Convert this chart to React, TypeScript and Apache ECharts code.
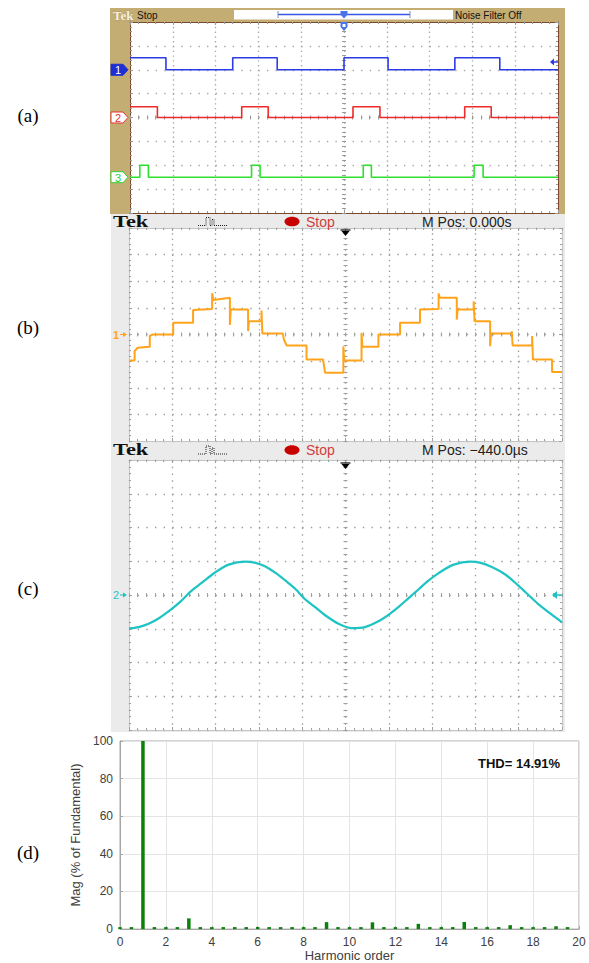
import React, { useEffect, useRef } from "react";
import * as echarts from "echarts";

// ---------- (a) gate signals: edge times (divisions) and levels (divisions from centre)
const gate1Time = [0, 0.84, 2.4, 3.44, 5.0, 6.03, 7.59, 8.64, 10];
const gate1Level = [2.5, 2.0, 2.5, 2.0, 2.5, 2.0, 2.5, 2.0, 2.0];
const gate2Time = [0, 0.64, 2.61, 3.23, 5.21, 5.84, 7.82, 8.44, 10];
const gate2Level = [0.45, 0, 0.45, 0, 0.45, 0, 0.45, 0, 0];
const gate3Time = [0, 0.23, 0.43, 2.84, 3.04, 5.45, 5.64, 8.04, 8.25, 10];
const gate3Level = [-2.5, -2.0, -2.5, -2.0, -2.5, -2.0, -2.5, -2.0, -2.5, -2.5];

// ---------- (b) multilevel output voltage (time div, level div)
const stairTime = [0, 0.13, 0.13, 0.2, 0.48, 0.48, 0.55, 1.02, 1.02, 1.48, 1.48, 1.92, 1.92, 1.95, 2.33, 2.33, 2.35, 2.75, 2.75, 2.77, 3.06, 3.06, 3.08, 3.55, 3.58, 3.64, 4.1, 4.1, 4.48, 4.53, 4.95, 4.95, 4.97, 5.37, 5.37, 5.39, 5.76, 5.76, 6.26, 6.26, 6.72, 6.72, 7.15, 7.15, 7.18, 7.57, 7.57, 7.59, 7.96, 7.96, 7.98, 8.34, 8.34, 8.36, 8.84, 8.84, 8.86, 9.31, 9.31, 9.33, 9.77, 9.77, 10];
const stairLevel = [-0.98, -0.98, -0.62, -0.5, -0.46, -0.05, 0, 0, 0.44, 0.44, 0.92, 0.96, 1.55, 1.3, 1.38, 0.36, 0.94, 0.94, 0.13, 0.5, 0.5, 0.9, 0.04, 0.04, -0.2, -0.41, -0.41, -0.94, -0.94, -1.44, -1.44, -0.45, -0.98, -0.98, 0.06, -0.46, -0.46, 0, 0, 0.44, 0.44, 0.94, 0.96, 1.54, 1.38, 1.38, 0.56, 0.94, 0.94, 1.25, 0.5, 0.5, -0.44, 0.04, 0.04, 0.12, -0.41, -0.41, -0.06, -0.94, -0.94, -1.41, -1.41];

// ---------- (c) load current (time div, level div)
const currTime = [0, 0.22, 0.44, 0.7, 0.98, 1.2, 1.44, 1.7, 1.98, 2.3, 2.68, 2.9, 3.14, 3.4, 3.6, 3.85, 4.06, 4.3, 4.53, 4.85, 5.14, 5.45, 5.76, 6.0, 6.22, 6.45, 6.69, 6.9, 7.15, 7.5, 7.88, 8.1, 8.38, 8.7, 9.0, 9.25, 9.46, 9.75, 10];
const currLevel = [-0.99, -0.95, -0.86, -0.68, -0.42, -0.18, 0.12, 0.38, 0.66, 0.9, 0.99, 0.96, 0.85, 0.64, 0.44, 0.17, -0.12, -0.36, -0.6, -0.86, -0.98, -0.95, -0.78, -0.58, -0.36, -0.1, 0.17, 0.41, 0.65, 0.9, 0.99, 0.96, 0.83, 0.6, 0.27, -0.03, -0.28, -0.57, -0.81];

// ---------- (d) harmonic spectrum
const harmOrder = [0, 0.5, 1, 1.5, 2, 2.5, 3, 3.5, 4, 4.5, 5, 5.5, 6, 6.5, 7, 7.5, 8, 8.5, 9, 9.5, 10, 10.5, 11, 11.5, 12, 12.5, 13, 13.5, 14, 14.5, 15, 15.5, 16, 16.5, 17, 17.5, 18, 18.5, 19, 19.5];
const harmMag = [0.3, 0.3, 100, 0.3, 0.3, 0.3, 5.7, 0.3, 0.3, 0.3, 1.0, 0.3, 0.3, 0.3, 0.9, 0.3, 0.3, 0.3, 3.7, 0.3, 0.3, 0.3, 3.6, 0.3, 0.3, 0.3, 2.8, 0.3, 0.3, 0.3, 3.8, 0.3, 0.3, 0.3, 2.1, 0.3, 0.3, 0.3, 1.5, 0.3];
const thdText = "THD= 14.91%";

const SANS = '"Liberation Sans", Arial, sans-serif';
const SERIF = '"Liberation Serif", "Times New Roman", serif';

type Box = { left: number; top: number; width: number; height: number };
const boxA: Box = { left: 130, top: 22, width: 428, height: 191 };
const boxB: Box = { left: 129, top: 228, width: 433, height: 213 };
const boxC: Box = { left: 129, top: 460, width: 433, height: 270 };
const boxD: Box = { left: 120, top: 741, width: 459, height: 192 };

const zip = (a: number[], b: number[]) => a.map((v, i) => [v, b[i]]);

function scopeAxes(g: number, box: Box, border: string, dot: string, tick: string) {
  const h = box.height;
  const w = box.width;
  const xb: any = { gridIndex: g, type: "value", min: 0, max: 10, interval: 1, axisLabel: { show: false } };
  const yb: any = { gridIndex: g, type: "value", min: -4, max: 4, interval: 1, axisLabel: { show: false } };
  const edgeTick = { show: true, inside: true, length: 3, lineStyle: { color: tick } };
  const edgeMinor = { show: true, splitNumber: 5, length: 2, lineStyle: { color: tick } };
  const midTick = { show: true, inside: false, length: 4, lineStyle: { color: tick } };
  const midMinor = { show: true, splitNumber: 5, length: 4, lineStyle: { color: tick } };
  const dotV = (h / 8) / 5;
  const dotH = (w / 10) / 5;
  const xs = [
    { ...xb, position: "bottom", axisLine: { show: true, onZero: false, lineStyle: { color: border, width: 1 } }, axisTick: edgeTick, minorTick: edgeMinor, splitLine: { show: true, lineStyle: { color: dot, width: 1.3, type: [1.4, dotV - 1.4] } } },
    { ...xb, position: "top", axisLine: { show: true, onZero: false, lineStyle: { color: border, width: 1 } }, axisTick: edgeTick, minorTick: edgeMinor, splitLine: { show: false } },
    { ...xb, position: "bottom", offset: -h / 2 - 2, axisLine: { show: false, onZero: false }, axisTick: midTick, minorTick: midMinor, splitLine: { show: false } },
  ];
  const ys = [
    { ...yb, position: "left", axisLine: { show: true, onZero: false, lineStyle: { color: border, width: 1 } }, axisTick: edgeTick, minorTick: edgeMinor, splitLine: { show: true, lineStyle: { color: dot, width: 1.3, type: [1.4, dotH - 1.4] } } },
    { ...yb, position: "right", axisLine: { show: true, onZero: false, lineStyle: { color: border, width: 1 } }, axisTick: edgeTick, minorTick: edgeMinor, splitLine: { show: false } },
    { ...yb, position: "left", offset: -w / 2 - 2, axisLine: { show: false, onZero: false }, axisTick: midTick, minorTick: midMinor, splitLine: { show: false } },
  ];
  return { xs, ys };
}

const yOf = (box: Box, level: number) => box.top + box.height / 2 - (level * box.height) / 8;
const xOf = (box: Box, t: number) => box.left + (t * box.width) / 10;

function pentagon(x0: number, y: number, fill: string, stroke: string, label: string, color: string) {
  return [
    { type: "polygon", z: 50, shape: { points: [[x0, y - 5.5], [x0 + 12, y - 5.5], [x0 + 17, y], [x0 + 12, y + 5.5], [x0, y + 5.5]] }, style: { fill, stroke, lineWidth: 1 } },
    { type: "text", z: 51, style: { text: label, x: x0 + 7, y: y + 0.5, fill: color, font: `11px ${SANS}`, align: "center", verticalAlign: "middle", textAlign: "center", textVerticalAlign: "middle" } },
  ];
}

function tekHeader(yMid: number, mpos: string) {
  return [
    { type: "text", z: 50, x: 113, y: yMid, scaleX: 1.4, style: { text: "Tek", x: 0, y: 0, fill: "#111", font: `bold 16px ${SERIF}`, align: "left", verticalAlign: "middle", textAlign: "left", textVerticalAlign: "middle" } },
    { type: "polyline", z: 50, shape: { points: [[198, yMid + 4], [206, yMid + 4], [206, yMid - 4], [210, yMid - 4], [210, yMid + 4], [212, yMid + 4], [212, yMid - 2], [214, yMid - 2], [214, yMid + 4], [228, yMid + 4]] }, style: { stroke: "#222", fill: null, lineWidth: 1, lineDash: [1, 1] } },
    { type: "ellipse", z: 50, shape: { cx: 292, cy: yMid, rx: 7.5, ry: 4.8 }, style: { fill: "#c80000" } },
    { type: "text", z: 50, style: { text: "Stop", x: 306, y: yMid, fill: "#d23c3c", font: `14px ${SANS}`, align: "left", verticalAlign: "middle", textAlign: "left", textVerticalAlign: "middle" } },
    { type: "text", z: 50, style: { text: mpos, x: 422, y: yMid, fill: "#222", font: `14px ${SANS}`, align: "left", verticalAlign: "middle", textAlign: "left", textVerticalAlign: "middle" } },
  ];
}

function downArrow(x: number, y: number) {
  return [
    { type: "line", z: 50, shape: { x1: x - 5, y1: y, x2: x + 5, y2: y }, style: { stroke: "#000", lineWidth: 1.2 } },
    { type: "polygon", z: 50, shape: { points: [[x - 4, y + 1], [x + 4, y + 1], [x, y + 6]] }, style: { fill: "#000" } },
  ];
}

function panelLabel(text: string, y: number) {
  return { type: "text", z: 50, style: { text, x: 28, y, fill: "#000", font: `19px ${SERIF}`, align: "center", verticalAlign: "middle", textAlign: "center", textVerticalAlign: "middle" } };
}

export default function App() {
  const ref = useRef<HTMLDivElement>(null);
  useEffect(() => {
    const chart = echarts.init(ref.current!, null, { renderer: "svg" });
    const a = scopeAxes(0, boxA, "#7a4a2a", "#a8a8a8", "#9a9a9a");
    const b = scopeAxes(1, boxB, "#c4c4c4", "#9c9c9c", "#a0a0a0");
    const c = scopeAxes(2, boxC, "#c4c4c4", "#9c9c9c", "#a0a0a0");
    const axisGrey = "#404040";
    const dX = {
      gridIndex: 3, type: "value", min: 0, max: 20, interval: 2, position: "bottom",
      axisLine: { show: true, onZero: false, lineStyle: { color: "#a6a6a6" } },
      axisTick: { show: true, inside: true, length: 3, lineStyle: { color: "#a6a6a6" } },
      axisLabel: { color: axisGrey, fontSize: 12, fontFamily: SANS, margin: 7 },
      splitLine: { show: true, lineStyle: { color: "#e4e4e4", width: 1 } },
      name: "Harmonic order", nameLocation: "middle", nameGap: 18,
      nameTextStyle: { color: axisGrey, fontSize: 13, fontFamily: SANS },
    };
    const dY = {
      gridIndex: 3, type: "value", min: 0, max: 100, interval: 20, position: "left",
      axisLine: { show: true, onZero: false, lineStyle: { color: "#a6a6a6" } },
      axisTick: { show: true, inside: true, length: 3, lineStyle: { color: "#a6a6a6" } },
      axisLabel: { color: axisGrey, fontSize: 12, fontFamily: SANS, margin: 7 },
      splitLine: { show: true, lineStyle: { color: "#e4e4e4", width: 1 } },
      name: "Mag (% of Fundamental)", nameLocation: "middle", nameGap: 21,
      nameTextStyle: { color: axisGrey, fontSize: 13, fontFamily: SANS },
    };

    const gateLine = (name: string, t: number[], v: number[], color: string) => ({
      type: "line", name, xAxisIndex: 0, yAxisIndex: 0, data: zip(t, v), step: "end",
      showSymbol: false, symbol: "none", lineStyle: { color, width: 1.6 }, z: 5, silent: true,
    });

    const y1 = yOf(boxA, Math.min(...gate1Level));
    const y2 = yOf(boxA, Math.min(...gate2Level));
    const y3 = yOf(boxA, Math.min(...gate3Level));
    const yb1 = yOf(boxB, 0);
    const yc2 = yOf(boxC, 0);
    const xMidA = xOf(boxA, 5);
    const xMidB = xOf(boxB, 5);

    const graphic: any[] = [
      // panel (a) frame
      { type: "rect", z: -10, shape: { x: 110, y: 8, width: 455, height: 206 }, style: { fill: "#c4ad72" } },
      { type: "text", z: 50, style: { text: "Tek", x: 113, y: 15, fill: "#f6f0df", stroke: "#9a8552", lineWidth: 0.4, font: `bold 13px ${SERIF}`, align: "left", verticalAlign: "middle", textAlign: "left", textVerticalAlign: "middle" } },
      { type: "text", z: 50, style: { text: "Stop", x: 137, y: 15, fill: "#111", font: `10px ${SANS}`, align: "left", verticalAlign: "middle", textAlign: "left", textVerticalAlign: "middle" } },
      { type: "rect", z: 20, shape: { x: 234, y: 10, width: 219, height: 9.5 }, style: { fill: "#ffffff" } },
      { type: "line", z: 50, shape: { x1: 278, y1: 14.5, x2: 410, y2: 14.5 }, style: { stroke: "#3a55e6", lineWidth: 1.5 } },
      { type: "line", z: 50, shape: { x1: 278, y1: 11, x2: 278, y2: 18 }, style: { stroke: "#8090b0", lineWidth: 1 } },
      { type: "line", z: 50, shape: { x1: 410, y1: 11, x2: 410, y2: 18 }, style: { stroke: "#8090b0", lineWidth: 1 } },
      { type: "polygon", z: 51, shape: { points: [[xMidA - 3.5, 11], [xMidA + 3.5, 11], [xMidA + 3.5, 14.5], [xMidA, 18.5], [xMidA - 3.5, 14.5]] }, style: { fill: "#4a74e8" } },
      { type: "polygon", z: 51, shape: { points: [[xMidA - 3.5, 22], [xMidA + 3.5, 22], [xMidA + 3.5, 27], [xMidA, 31], [xMidA - 3.5, 27]] }, style: { fill: "#4a74e8" } },
      { type: "rect", z: 52, shape: { x: xMidA - 1.5, y: 24, width: 3, height: 3 }, style: { fill: "#ffffff" } },
      { type: "text", z: 50, style: { text: "Noise Filter Off", x: 455, y: 15, fill: "#111", font: `10px ${SANS}`, align: "left", verticalAlign: "middle", textAlign: "left", textVerticalAlign: "middle" } },
      ...pentagon(111, y1, "#1f2fd0", "#1f2fd0", "1", "#ffffff"),
      ...pentagon(111, y2, "#ffffff", "#e83030", "2", "#e83030"),
      ...pentagon(111, y3, "#ffffff", "#30d030", "3", "#30d030"),
      { type: "polygon", z: 50, shape: { points: [[550, 62], [554, 58.5], [554, 65.5]] }, style: { fill: "#2a3ae0" } },
      { type: "line", z: 50, shape: { x1: 553, y1: 62, x2: 558, y2: 62 }, style: { stroke: "#2a3ae0", lineWidth: 1.5 } },

      // panel (b) frame
      { type: "rect", z: -10, shape: { x: 111, y: 214, width: 454, height: 228 }, style: { fill: "#ebebeb" } },
      ...tekHeader(221.5, "M Pos: 0.000s"),
      ...downArrow(xMidB, 230),
      { type: "text", z: 50, style: { text: "1", x: 116, y: yb1, fill: "#ffa41a", font: `bold 11px ${SANS}`, align: "center", verticalAlign: "middle", textAlign: "center", textVerticalAlign: "middle" } },
      { type: "polygon", z: 50, shape: { points: [[123, yb1 - 2.5], [127, yb1], [123, yb1 + 2.5]] }, style: { fill: "#ffa41a" } },
      { type: "line", z: 50, shape: { x1: 120, y1: yb1, x2: 124, y2: yb1 }, style: { stroke: "#ffa41a", lineWidth: 1 } },

      // panel (c) frame
      { type: "rect", z: -10, shape: { x: 111, y: 442, width: 454, height: 290 }, style: { fill: "#ebebeb" } },
      ...tekHeader(450, "M Pos: \u2212440.0\u00b5s"),
      ...downArrow(xMidB, 463),
      { type: "text", z: 50, style: { text: "2", x: 116, y: yc2, fill: "#1ec3c3", font: `11px ${SANS}`, align: "center", verticalAlign: "middle", textAlign: "center", textVerticalAlign: "middle" } },
      { type: "polygon", z: 50, shape: { points: [[123, yc2 - 2.5], [127, yc2], [123, yc2 + 2.5]] }, style: { fill: "#1ec3c3" } },
      { type: "line", z: 50, shape: { x1: 120, y1: yc2, x2: 124, y2: yc2 }, style: { stroke: "#1ec3c3", lineWidth: 1 } },
      { type: "polygon", z: 50, shape: { points: [[552, yc2], [557, yc2 - 4], [557, yc2 + 4]] }, style: { fill: "#1ec3c3" } },
      { type: "line", z: 50, shape: { x1: 555, y1: yc2, x2: 562, y2: yc2 }, style: { stroke: "#1ec3c3", lineWidth: 1.5 } },

      // panel (d)
      { type: "text", z: 50, style: { text: thdText, x: 478, y: 763, fill: "#111", font: `bold 13px ${SANS}`, align: "left", verticalAlign: "middle", textAlign: "left", textVerticalAlign: "middle" } },

      panelLabel("(a)", 115),
      panelLabel("(b)", 327),
      panelLabel("(c)", 588),
      panelLabel("(d)", 852),
    ];

    const option: any = {
      animation: false,
      backgroundColor: "#ffffff",
      grid: [
        { ...boxA, show: true, backgroundColor: "#ffffff", borderWidth: 0, containLabel: false },
        { ...boxB, show: true, backgroundColor: "#ffffff", borderWidth: 0, containLabel: false },
        { ...boxC, show: true, backgroundColor: "#ffffff", borderWidth: 0, containLabel: false },
        { ...boxD, show: true, backgroundColor: "#ffffff", borderWidth: 1, borderColor: "#a6a6a6", containLabel: false },
      ],
      xAxis: [...a.xs, ...b.xs, ...c.xs, dX],
      yAxis: [...a.ys, ...b.ys, ...c.ys, dY],
      series: [
        gateLine("S1", gate1Time, gate1Level, "#2b3be6"),
        gateLine("S2", gate2Time, gate2Level, "#ee2a2a"),
        gateLine("S3", gate3Time, gate3Level, "#2ee02e"),
        {
          type: "line", name: "Vout", xAxisIndex: 3, yAxisIndex: 3, data: zip(stairTime, stairLevel),
          showSymbol: false, symbol: "none", lineStyle: { color: "#ffa41a", width: 2 }, z: 5, silent: true,
        },
        {
          type: "line", name: "Iload", xAxisIndex: 6, yAxisIndex: 6, data: zip(currTime, currLevel), smooth: 0.3,
          showSymbol: false, symbol: "none", lineStyle: { color: "#1ec3c3", width: 2.2 }, z: 5, silent: true,
        },
        {
          type: "bar", name: "Harmonics", xAxisIndex: 9, yAxisIndex: 9, data: zip(harmOrder, harmMag),
          barWidth: 3.5, barMinHeight: 2, itemStyle: { color: "#0b800b" }, z: 5, silent: true,
        },
      ],
      graphic,
    };
    chart.setOption(option);
    return () => chart.dispose();
  }, []);
  return <div ref={ref} style={{ position: "absolute", left: 0, top: 0, width: 589, height: 963, background: "#fff" }} />;
}
